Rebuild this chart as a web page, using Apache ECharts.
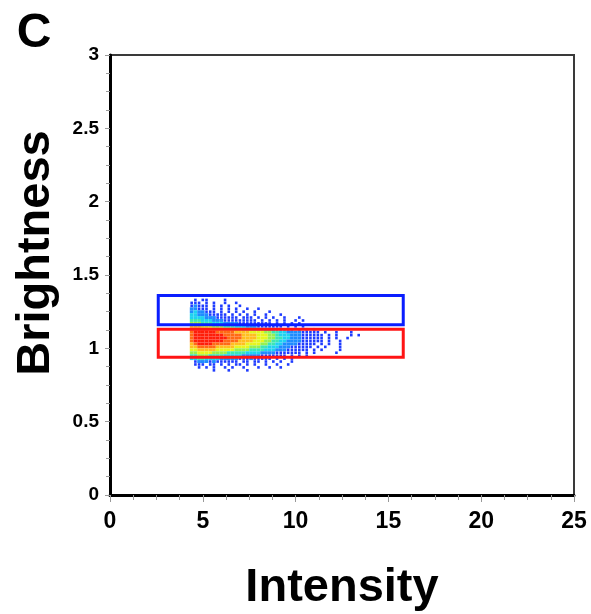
<!DOCTYPE html>
<html><head><meta charset="utf-8">
<script src="https://cdn.jsdelivr.net/npm/echarts@6/dist/echarts.min.js"></script>
<style>html,body{margin:0;padding:0;background:#fff}#c{width:591px;height:614px}</style>
</head><body><div id="c"></div>
<script>
// ---- data ----
const xRange = [0, 25];
const yRange = [0, 3];
const xTickStep = 5;
const yTickStep = 0.5;
// 2D density histogram: columns start at intensity 4.3, step 0.2; rows start at brightness 1.34 (top), step 0.02
const intensityStart = 4.3, intensityStep = 0.2;
const brightnessTop = 1.34, brightnessStep = 0.02;
// density level per cell (0 = empty, 1 = low ... 9 = high), spaces only for readability
const densityRows = [
  "01011 00001 0",
  "11101 01001 001",
  "12111 01010 10010",
  "22111 01010 10100 1001",
  "23221 11010 10101 00100 01",
  "33222 11111 01010 10100 10001",
  "33332 22111 11101 11010 10100 10001",
  "44433 32221 11111 11101 01010 10010 1",
  "55544 43332 22211 11111 11010 10101 00",
  "77766 65554 44333 22211 11111 01010 10",
  "88888 77766 65554 44333 22211 11101 0101",
  "89999 99888 88777 76666 55443 32222 11111 01001 0001",
  "89999 99998 88887 77766 65543 33222 11111 10101 00010 1",
  "89999 99999 88887 77766 65544 33222 11111 10101 00100 0",
  "89999 99998 88877 77666 55443 32222 11111 10100 10000",
  "78999 98888 87777 66665 54433 22221 11110 10100 1",
  "77888 88777 77666 65554 43332 22111 11101 01000 10",
  "66777 77666 66555 54444 33322 21111 11010 10000 1",
  "55666 65555 44444 33332 22211 11111 01010 00001",
  "44555 44443 33332 22221 11111 10101 010",
  "33443 33322 22211 12111 11010 1010",
  "01222 12111 11101 10110 10101 0010",
  "01110 11010 10110 10100 10010 01",
  "00101 01001 01001 00010 01001",
  "00000 01000 10000 10000"
];
// gates: [xMin, yMin, xMax, yMax]
const gateUpper = [2.6, 1.16, 15.8, 1.36];
const gateLower = [2.6, 0.94, 15.8, 1.13];
const xName = "Intensity";
const yName = "Brightness";
const panelLabel = "C";

// ---- styles ----
const palette = [null, '#1f3cff', '#1e8cff', '#1ed2f0', '#3ce6b4', '#96f050', '#e6f51e', '#ffbe1e', '#ff6a14', '#ff1e0a'];
const gateColors = ['#0a1eff', '#ff1414'];
const FONT = '"Liberation Sans", Arial, Helvetica, sans-serif';
const G = {left: 110, top: 55, width: 464, height: 440};

const points = [];
densityRows.forEach((row, j) => {
  const r = row.replace(/ /g, '');
  for (let c = 0; c < r.length; c++) {
    const lv = +r[c];
    if (lv > 0) points.push([intensityStart + intensityStep * (c + 0.5), brightnessTop - brightnessStep * (j + 0.5), lv]);
  }
});
const cellW = G.width / (xRange[1] - xRange[0]) * intensityStep;
const cellH = G.height / (yRange[1] - yRange[0]) * brightnessStep;

const chart = echarts.init(document.getElementById('c'), null, {renderer: 'canvas'});
const tickStyle = {color: '#999', width: 1};
chart.setOption({
  animation: false,
  backgroundColor: '#fff',
  grid: Object.assign({show: true, borderColor: '#3a3a3a', borderWidth: 2, backgroundColor: 'transparent',
    containLabel: false, outerBoundsMode: 'none'}, G),
  xAxis: {
    type: 'value', min: xRange[0], max: xRange[1], interval: xTickStep,
    name: xName, nameLocation: 'middle', nameGap: 70,
    nameTextStyle: {fontSize: 47, fontWeight: 'bold', color: '#000', fontFamily: FONT},
    axisLine: {show: true, onZero: false, lineStyle: {color: '#000', width: 3}},
    axisTick: {show: true, length: 7, lineStyle: tickStyle},
    minorTick: {show: true, splitNumber: 4, length: 5, lineStyle: tickStyle},
    splitLine: {show: false},
    axisLabel: {fontSize: 23, fontWeight: 'bold', color: '#000', margin: 15, fontFamily: FONT}
  },
  yAxis: {
    type: 'value', min: yRange[0], max: yRange[1], interval: yTickStep,
    axisLine: {show: true, onZero: false, lineStyle: {color: '#000', width: 3}},
    axisTick: {show: true, length: 5, lineStyle: tickStyle},
    minorTick: {show: true, splitNumber: 4, length: 4, lineStyle: tickStyle},
    splitLine: {show: false},
    axisLabel: {fontSize: 19, fontWeight: 'bold', color: '#000', margin: 11, fontFamily: FONT}
  },
  series: [
    {
      type: 'scatter', z: 2, data: points, symbol: 'rect',
      symbolSize: v => v[2] <= 1 ? [2.6, 2.6] : [cellW, cellH],
      itemStyle: {color: p => palette[p.value[2]], opacity: 1},
      emphasis: {disabled: true}
    },
    {
      type: 'custom', z: 10, data: [gateUpper, gateLower],
      renderItem: (params, api) => {
        const p1 = api.coord([api.value(0), api.value(3)]);
        const p2 = api.coord([api.value(2), api.value(1)]);
        return {type: 'rect', shape: {x: p1[0], y: p1[1], width: p2[0] - p1[0], height: p2[1] - p1[1]},
          style: {fill: 'none', stroke: gateColors[params.dataIndex], lineWidth: 3}};
      }
    }
  ],
  graphic: [
    {type: 'text', x: 34, y: 34, style: {text: panelLabel, align: 'center', verticalAlign: 'middle', fill: '#000', font: 'bold 48px ' + FONT}},
    {type: 'text', x: 36, y: 253, rotation: Math.PI / 2, style: {text: yName, align: 'center', verticalAlign: 'middle', fill: '#000', font: 'bold 47px ' + FONT}}
  ]
});
</script></body></html>
